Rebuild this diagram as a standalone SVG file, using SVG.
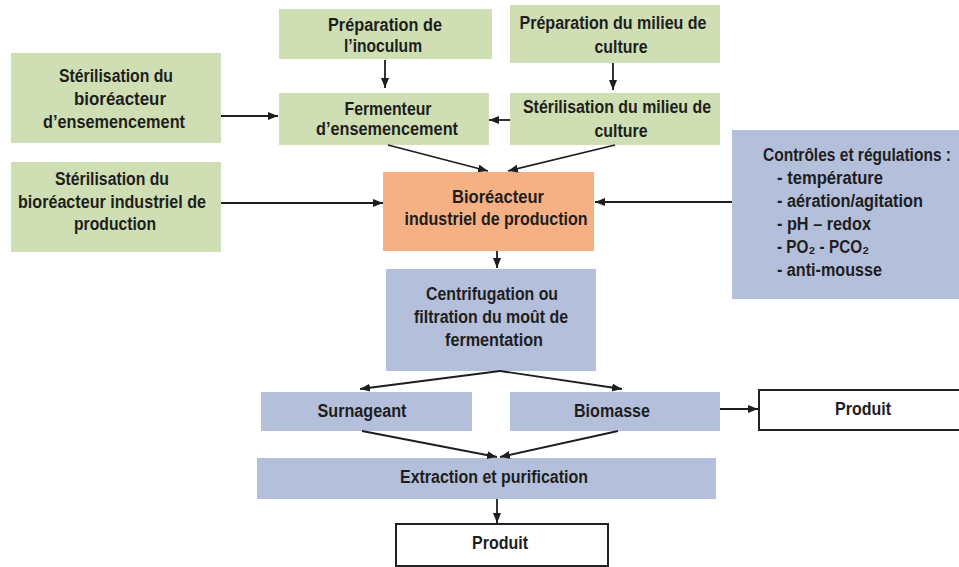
<svg xmlns="http://www.w3.org/2000/svg" width="959" height="567" viewBox="0 0 959 567">
<style>
.g{fill:#cfdeb3}
.o{fill:#f5b084}
.b{fill:#b4bfdc}
.w{fill:#ffffff;stroke:#222;stroke-width:2}
text{font-family:"Liberation Sans",Arial,sans-serif;font-size:18px;font-weight:bold;fill:#1e1e1e}
.c{text-anchor:middle}
.cn path{fill:none;stroke:#1e1e1e;stroke-width:1.8;marker-end:url(#ah)}
</style>
<defs>
<marker id="ah" markerUnits="userSpaceOnUse" markerWidth="11" markerHeight="9" refX="10" refY="4" orient="auto">
<path d="M0,0 L10,4 L0,8 z" fill="#1e1e1e"/>
</marker>
</defs>
<rect width="959" height="567" fill="#ffffff"/>

<g id="prep-inoculum">
<rect class="g" x="279" y="9" width="213" height="50"/>
<text class="c" x="385" y="31" textLength="114" lengthAdjust="spacingAndGlyphs">Préparation de</text>
<text class="c" x="383" y="52" textLength="78" lengthAdjust="spacingAndGlyphs">l’inoculum</text>
</g>

<g id="prep-milieu">
<rect class="g" x="510" y="5" width="210" height="58"/>
<text class="c" x="613" y="29" textLength="187" lengthAdjust="spacingAndGlyphs">Préparation du milieu de</text>
<text class="c" x="621" y="53" textLength="53" lengthAdjust="spacingAndGlyphs">culture</text>
</g>

<g id="steril-bioreacteur-ens">
<rect class="g" x="11" y="53" width="210" height="90"/>
<text class="c" x="116" y="82" textLength="114" lengthAdjust="spacingAndGlyphs">Stérilisation du</text>
<text class="c" x="120" y="105" textLength="92" lengthAdjust="spacingAndGlyphs">bioréacteur</text>
<text class="c" x="114" y="128" textLength="142" lengthAdjust="spacingAndGlyphs">d’ensemencement</text>
</g>

<g id="fermenteur">
<rect class="g" x="279" y="93" width="210" height="52"/>
<text class="c" x="388" y="115" textLength="87" lengthAdjust="spacingAndGlyphs">Fermenteur</text>
<text class="c" x="387" y="135" textLength="142" lengthAdjust="spacingAndGlyphs">d’ensemencement</text>
</g>

<g id="steril-milieu">
<rect class="g" x="510" y="93" width="210" height="52"/>
<text class="c" x="617" y="113" textLength="188" lengthAdjust="spacingAndGlyphs">Stérilisation du milieu de</text>
<text class="c" x="621" y="137" textLength="53" lengthAdjust="spacingAndGlyphs">culture</text>
</g>

<g id="steril-bioreacteur-ind">
<rect class="g" x="11" y="162" width="210" height="90"/>
<text class="c" x="112" y="185" textLength="114" lengthAdjust="spacingAndGlyphs">Stérilisation du</text>
<text class="c" x="112" y="208" textLength="188" lengthAdjust="spacingAndGlyphs">bioréacteur industriel de</text>
<text class="c" x="115" y="230" textLength="82" lengthAdjust="spacingAndGlyphs">production</text>
</g>

<g id="bioreacteur">
<rect class="o" x="383" y="172" width="211" height="79"/>
<text class="c" x="498" y="203" textLength="92" lengthAdjust="spacingAndGlyphs">Bioréacteur</text>
<text class="c" x="496" y="225" textLength="183" lengthAdjust="spacingAndGlyphs">industriel de production</text>
</g>

<g id="controles">
<rect class="b" x="732" y="130" width="232" height="169"/>
<text x="763" y="161" textLength="188" lengthAdjust="spacingAndGlyphs">Contrôles et régulations :</text>
<text x="777" y="184" textLength="106" lengthAdjust="spacingAndGlyphs">- température</text>
<text x="777" y="207" textLength="146" lengthAdjust="spacingAndGlyphs">- aération/agitation</text>
<text x="777" y="230" textLength="94" lengthAdjust="spacingAndGlyphs">- pH – redox</text>
<text x="777" y="253" textLength="92" lengthAdjust="spacingAndGlyphs">- PO₂ - PCO₂</text>
<text x="777" y="276" textLength="105" lengthAdjust="spacingAndGlyphs">- anti-mousse</text>
</g>

<g id="centrifugation">
<rect class="b" x="386" y="269" width="210" height="102"/>
<text class="c" x="492" y="300" textLength="132" lengthAdjust="spacingAndGlyphs">Centrifugation ou</text>
<text class="c" x="491" y="323" textLength="154" lengthAdjust="spacingAndGlyphs">filtration du moût de</text>
<text class="c" x="494" y="346" textLength="98" lengthAdjust="spacingAndGlyphs">fermentation</text>
</g>

<g id="surnageant">
<rect class="b" x="261" y="392" width="211" height="39"/>
<text class="c" x="362" y="417" textLength="89" lengthAdjust="spacingAndGlyphs">Surnageant</text>
</g>

<g id="biomasse">
<rect class="b" x="510" y="392" width="210" height="39"/>
<text class="c" x="612" y="417" textLength="76" lengthAdjust="spacingAndGlyphs">Biomasse</text>
</g>

<g id="produit-biomasse">
<rect class="w" x="759" y="390" width="210" height="40"/>
<text class="c" x="863" y="415" textLength="56" lengthAdjust="spacingAndGlyphs">Produit</text>
</g>

<g id="extraction">
<rect class="b" x="257" y="458" width="459" height="41"/>
<text class="c" x="494" y="483" textLength="188" lengthAdjust="spacingAndGlyphs">Extraction et purification</text>
</g>

<g id="produit-final">
<rect class="w" x="396" y="524" width="212" height="42"/>
<text class="c" x="500" y="549" textLength="56" lengthAdjust="spacingAndGlyphs">Produit</text>
</g>

<g id="connectors" class="cn">
<path d="M385,60 V88"/>
<path d="M613,63 V90"/>
<path d="M221,116 H278"/>
<path d="M510,120 H489"/>
<path d="M388,145 L488,171"/>
<path d="M615,145 L508,171"/>
<path d="M221,203 H383"/>
<path d="M732,202 H595"/>
<path d="M497,251 V268"/>
<path d="M500,371 L360,389"/>
<path d="M500,371 L622,389"/>
<path d="M362,431 L497,457"/>
<path d="M618,431 L500,457"/>
<path d="M497,499 V523"/>
<path d="M720,409 H758"/>
</g>
</svg>
